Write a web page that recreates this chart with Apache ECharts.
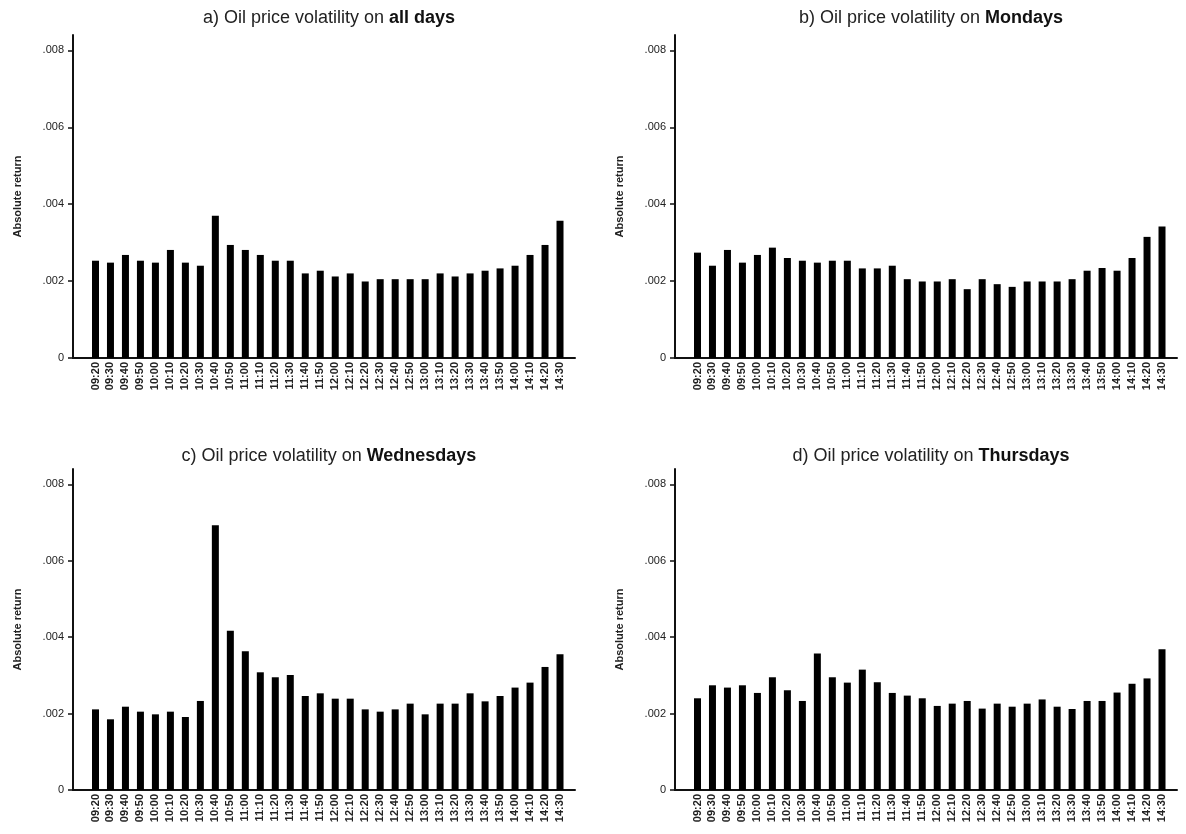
<!DOCTYPE html>
<html>
<head>
<meta charset="utf-8">
<script src="https://cdn.jsdelivr.net/npm/echarts@6/dist/echarts.min.js"></script>
<style>
  html, body { margin: 0; padding: 0; background: #fff; }
  #chart { width: 1186px; height: 834px; }
</style>
</head>
<body>
<div id="chart"></div>
<script>
// Ten-minute intraday intervals
const times = [
  '09:20', '09:30', '09:40', '09:50',
  '10:00', '10:10', '10:20', '10:30', '10:40', '10:50',
  '11:00', '11:10', '11:20', '11:30', '11:40', '11:50',
  '12:00', '12:10', '12:20', '12:30', '12:40', '12:50',
  '13:00', '13:10', '13:20', '13:30', '13:40', '13:50',
  '14:00', '14:10', '14:20', '14:30'
];

// Mean absolute return per interval
const allDays = [
  0.00253, 0.00248, 0.00268, 0.00253, 0.00248, 0.00281, 0.00248, 0.00240,
  0.00370, 0.00294, 0.00281, 0.00268, 0.00253, 0.00253, 0.00220, 0.00227,
  0.00212, 0.00220, 0.00199, 0.00205, 0.00205, 0.00205, 0.00205, 0.00220,
  0.00212, 0.00220, 0.00227, 0.00233, 0.00240, 0.00268, 0.00294, 0.00357
];
const mondays = [
  0.00274, 0.00240, 0.00281, 0.00248, 0.00268, 0.00287, 0.00260, 0.00253,
  0.00248, 0.00253, 0.00253, 0.00233, 0.00233, 0.00240, 0.00205, 0.00199,
  0.00199, 0.00205, 0.00179, 0.00205, 0.00192, 0.00185, 0.00199, 0.00199,
  0.00199, 0.00205, 0.00227, 0.00234, 0.00227, 0.00260, 0.00315, 0.00342
];
const wednesdays = [
  0.00211, 0.00185, 0.00218, 0.00205, 0.00198, 0.00205, 0.00191, 0.00233,
  0.00693, 0.00417, 0.00363, 0.00308, 0.00295, 0.00301, 0.00246, 0.00253,
  0.00239, 0.00239, 0.00211, 0.00205, 0.00211, 0.00226, 0.00198, 0.00226,
  0.00226, 0.00253, 0.00232, 0.00246, 0.00268, 0.00281, 0.00322, 0.00355
];
const thursdays = [
  0.00240, 0.00274, 0.00268, 0.00274, 0.00254, 0.00295, 0.00261, 0.00233,
  0.00357, 0.00295, 0.00281, 0.00315, 0.00282, 0.00254, 0.00247, 0.00240,
  0.00220, 0.00226, 0.00233, 0.00213, 0.00226, 0.00218, 0.00226, 0.00237,
  0.00218, 0.00212, 0.00233, 0.00233, 0.00255, 0.00278, 0.00292, 0.00368
];

const yTicks = [0, 0.002, 0.004, 0.006, 0.008];
const yMax = 0.0084;

const panels = [
  { prefix: 'a) Oil price volatility on ', day: 'all days',   values: allDays,    left: 73,  top: 35,  height: 323, titleTop: 4 },
  { prefix: 'b) Oil price volatility on ', day: 'Mondays',    values: mondays,    left: 675, top: 35,  height: 323, titleTop: 4 },
  { prefix: 'c) Oil price volatility on ', day: 'Wednesdays', values: wednesdays, left: 73,  top: 469, height: 321, titleTop: 442 },
  { prefix: 'd) Oil price volatility on ', day: 'Thursdays',  values: thursdays,  left: 675, top: 469, height: 321, titleTop: 442 }
];
const gridWidth = 502;
const ink = '#111';
const font = '"Liberation Sans", Arial, sans-serif';

const option = {
  animation: false,
  backgroundColor: '#fff',
  title: panels.map(p => ({
    text: '{n|' + p.prefix + '}{b|' + p.day + '}',
    left: p.left + gridWidth / 2,
    top: p.titleTop,
    textAlign: 'center',
    textStyle: {
      rich: {
        n: { fontFamily: font, fontSize: 18, color: '#222', fontWeight: 'normal' },
        b: { fontFamily: font, fontSize: 18, color: '#111', fontWeight: 'bold' }
      }
    }
  })),
  grid: panels.map(p => ({
    left: p.left, top: p.top, width: gridWidth, height: p.height, containLabel: false
  })),
  xAxis: panels.map((p, i) => ({
    type: 'value',
    gridIndex: i,
    min: -1.5,
    max: times.length,
    splitLine: { show: false },
    axisTick: { show: false },
    axisLine: { show: true, onZero: false, lineStyle: { color: ink, width: 2 } },
    axisLabel: {
      customValues: times.map((t, k) => k),
      formatter: v => times[Math.round(v)] || '',
      rotate: 90,
      margin: 4,
      fontFamily: font,
      fontSize: 11,
      fontWeight: 'bold',
      color: '#222'
    }
  })),
  yAxis: panels.map((p, i) => ({
    type: 'value',
    gridIndex: i,
    min: 0,
    max: yMax,
    name: 'Absolute return',
    nameLocation: 'middle',
    nameGap: 50,
    nameTextStyle: { fontFamily: font, fontSize: 11, color: '#222', fontWeight: 'bold' },
    splitLine: { show: false },
    axisLine: { show: true, onZero: false, lineStyle: { color: ink, width: 2 } },
    axisTick: { show: true, length: 5, customValues: yTicks, lineStyle: { color: ink, width: 1.5 } },
    axisLabel: {
      customValues: yTicks,
      formatter: v => v === 0 ? '0' : v.toFixed(3).replace(/^0/, ''),
      margin: 9,
      fontFamily: font,
      fontSize: 11,
      color: '#222'
    }
  })),
  series: panels.map((p, i) => ({
    type: 'bar',
    xAxisIndex: i,
    yAxisIndex: i,
    barWidth: 7,
    itemStyle: { color: '#000' },
    data: p.values.map((v, k) => [k, v])
  }))
};

const chart = echarts.init(document.getElementById('chart'), null, { renderer: 'canvas' });
chart.setOption(option);
</script>
</body>
</html>
